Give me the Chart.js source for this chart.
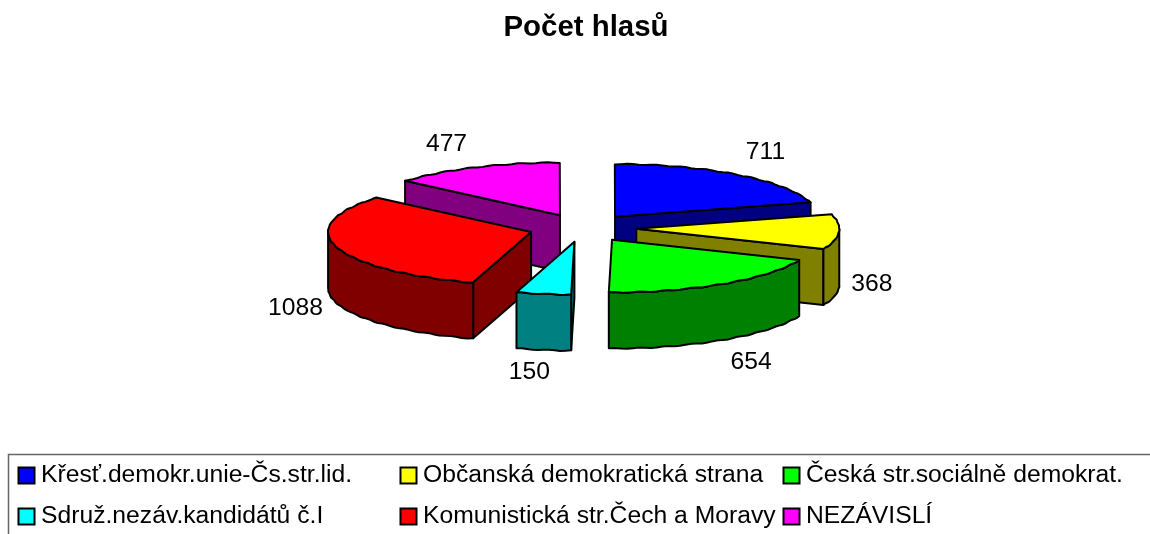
<!DOCTYPE html>
<html>
<head>
<meta charset="utf-8">
<style>html,body{margin:0;padding:0;background:#fff}canvas{display:block}</style>
<script src="https://cdn.jsdelivr.net/npm/chart.js@4"></script>
</head>
<body>
<canvas id="c" width="1150" height="534"></canvas>
<script>
const chartTitle = "Počet hlasů";
const categories = ["Křesť.demokr.unie-Čs.str.lid.","Občanská demokratická strana","Česká str.sociálně demokrat.","Sdruž.nezáv.kandidátů č.I","Komunistická str.Čech a Moravy","NEZÁVISLÍ"];
const votes = [711,368,654,150,1088,477];
const topColors = ["#0000ff","#ffff00","#00ff00","#00ffff","#ff0000","#ff00ff"];
const sideColors = ["#000080","#808000","#008000","#008080","#800000","#800080"];
const labelNudgeX = [28,33,28,-14,-41,-28];
const labelNudgeY = [-23,52,78,78,61,-23];
const paintOrder = [5,0,1,4,3,2];
const legendColumns = [18,400,783];
const legendRows = [467,508];

const SQUASH = 0.26, DEPTH = 56, SHIFT_X = -3.4, FONT = '"Liberation Sans", Arial, sans-serif';

const pie3d = {
  id: 'pie3d',
  beforeDatasetsDraw(chart) {
    const ctx = chart.ctx, arcs = chart.getDatasetMeta(0).data;
    ctx.save();
    ctx.lineWidth = 2; ctx.lineJoin = 'round'; ctx.strokeStyle = '#000';
    const paint = (fill) => { ctx.closePath(); ctx.fillStyle = fill; ctx.fill(); ctx.stroke(); };
    paintOrder.forEach(i => {
      const a = arcs[i], s = a.startAngle, e = a.endAngle, r = a.outerRadius;
      const off = a.options.offset / 4, mid = (s + e) / 2;
      const ax = a.x + SHIFT_X + Math.cos(mid) * off, ay = a.y + Math.sin(mid) * off * SQUASH;
      const rim = t => [ax + r * Math.cos(t) + 0.2 * Math.sin(t * 61),
                        ay + r * SQUASH * Math.sin(t) + 0.45 * Math.sin(t * 47)];
      const steps = (t0, t1) => { const n = Math.max(2, Math.ceil((t1 - t0) / 0.03)), o = [];
        for (let k = 0; k <= n; k++) o.push(t0 + (t1 - t0) * k / n); return o; };
      const quad = t => { const p = rim(t); ctx.beginPath(); ctx.moveTo(ax, ay); ctx.lineTo(p[0], p[1]);
        ctx.lineTo(p[0], p[1] + DEPTH); ctx.lineTo(ax, ay + DEPTH); paint(sideColors[i]); };
      if (Math.cos(s) < 0) quad(s);
      if (Math.cos(e) > 0) quad(e);
      // visible outer wall: the parts of the arc that face the viewer
      for (const base of [0, 2 * Math.PI, -2 * Math.PI]) {
        const t0 = Math.max(s, base), t1 = Math.min(e, base + Math.PI);
        if (t1 > t0) {
          const ts = steps(t0, t1);
          ctx.beginPath();
          ts.forEach((t, k) => { const p = rim(t); k ? ctx.lineTo(p[0], p[1]) : ctx.moveTo(p[0], p[1]); });
          ts.slice().reverse().forEach(t => { const p = rim(t); ctx.lineTo(p[0], p[1] + DEPTH); });
          paint(sideColors[i]);
        }
      }
      ctx.beginPath(); ctx.moveTo(ax, ay);
      steps(s, e).forEach(t => { const p = rim(t); ctx.lineTo(p[0], p[1]); });
      paint(a.options.backgroundColor);
      // value label
      const lp = [ax + r * Math.cos(mid) + labelNudgeX[i], ay + r * SQUASH * Math.sin(mid) + labelNudgeY[i]];
      ctx.save();
      ctx.fillStyle = '#000'; ctx.font = '24.7px ' + FONT; ctx.textAlign = 'center'; ctx.textBaseline = 'middle';
      ctx.fillText(String(chart.data.datasets[0].data[i]), lp[0], lp[1]);
      ctx.restore();
    });
    ctx.restore();
    return false;
  },
  afterDraw(chart) {
    const ctx = chart.ctx, colors = chart.data.datasets[0].backgroundColor;
    ctx.save();
    ctx.strokeStyle = '#666'; ctx.lineWidth = 1.5;
    ctx.beginPath(); ctx.moveTo(8.5, 534); ctx.lineTo(8.5, 454.5); ctx.lineTo(1150, 454.5); ctx.stroke();
    ctx.font = '24.7px ' + FONT; ctx.textBaseline = 'alphabetic'; ctx.textAlign = 'left';
    chart.data.labels.forEach((lab, i) => {
      const x = legendColumns[i % 3], y = legendRows[Math.floor(i / 3)];
      ctx.fillStyle = colors[i]; ctx.fillRect(x + .5, y + .5, 16, 16);
      ctx.strokeStyle = '#000'; ctx.lineWidth = 2; ctx.strokeRect(x + .5, y + .5, 16, 16);
      ctx.fillStyle = '#000'; ctx.fillText(lab, x + 23, y + 15);
    });
    ctx.restore();
  }
};

new Chart(document.getElementById('c'), {
  type: 'pie',
  data: { labels: categories, datasets: [{ data: votes, backgroundColor: topColors, offset: 215, borderWidth: 0 }] },
  plugins: [pie3d],
  options: {
    responsive: false, animation: false, radius: 203,
    layout: { padding: { left: 22, right: 0, top: 0, bottom: 131 } },
    plugins: {
      legend: { display: false }, tooltip: { enabled: false },
      title: { display: true, text: chartTitle, fullSize: false, color: '#000',
        font: { family: FONT, size: 29.4, weight: 'bold', lineHeight: 1.2 }, padding: { top: 10.4, bottom: 7.3 } }
    }
  }
});
</script>
</body>
</html>
